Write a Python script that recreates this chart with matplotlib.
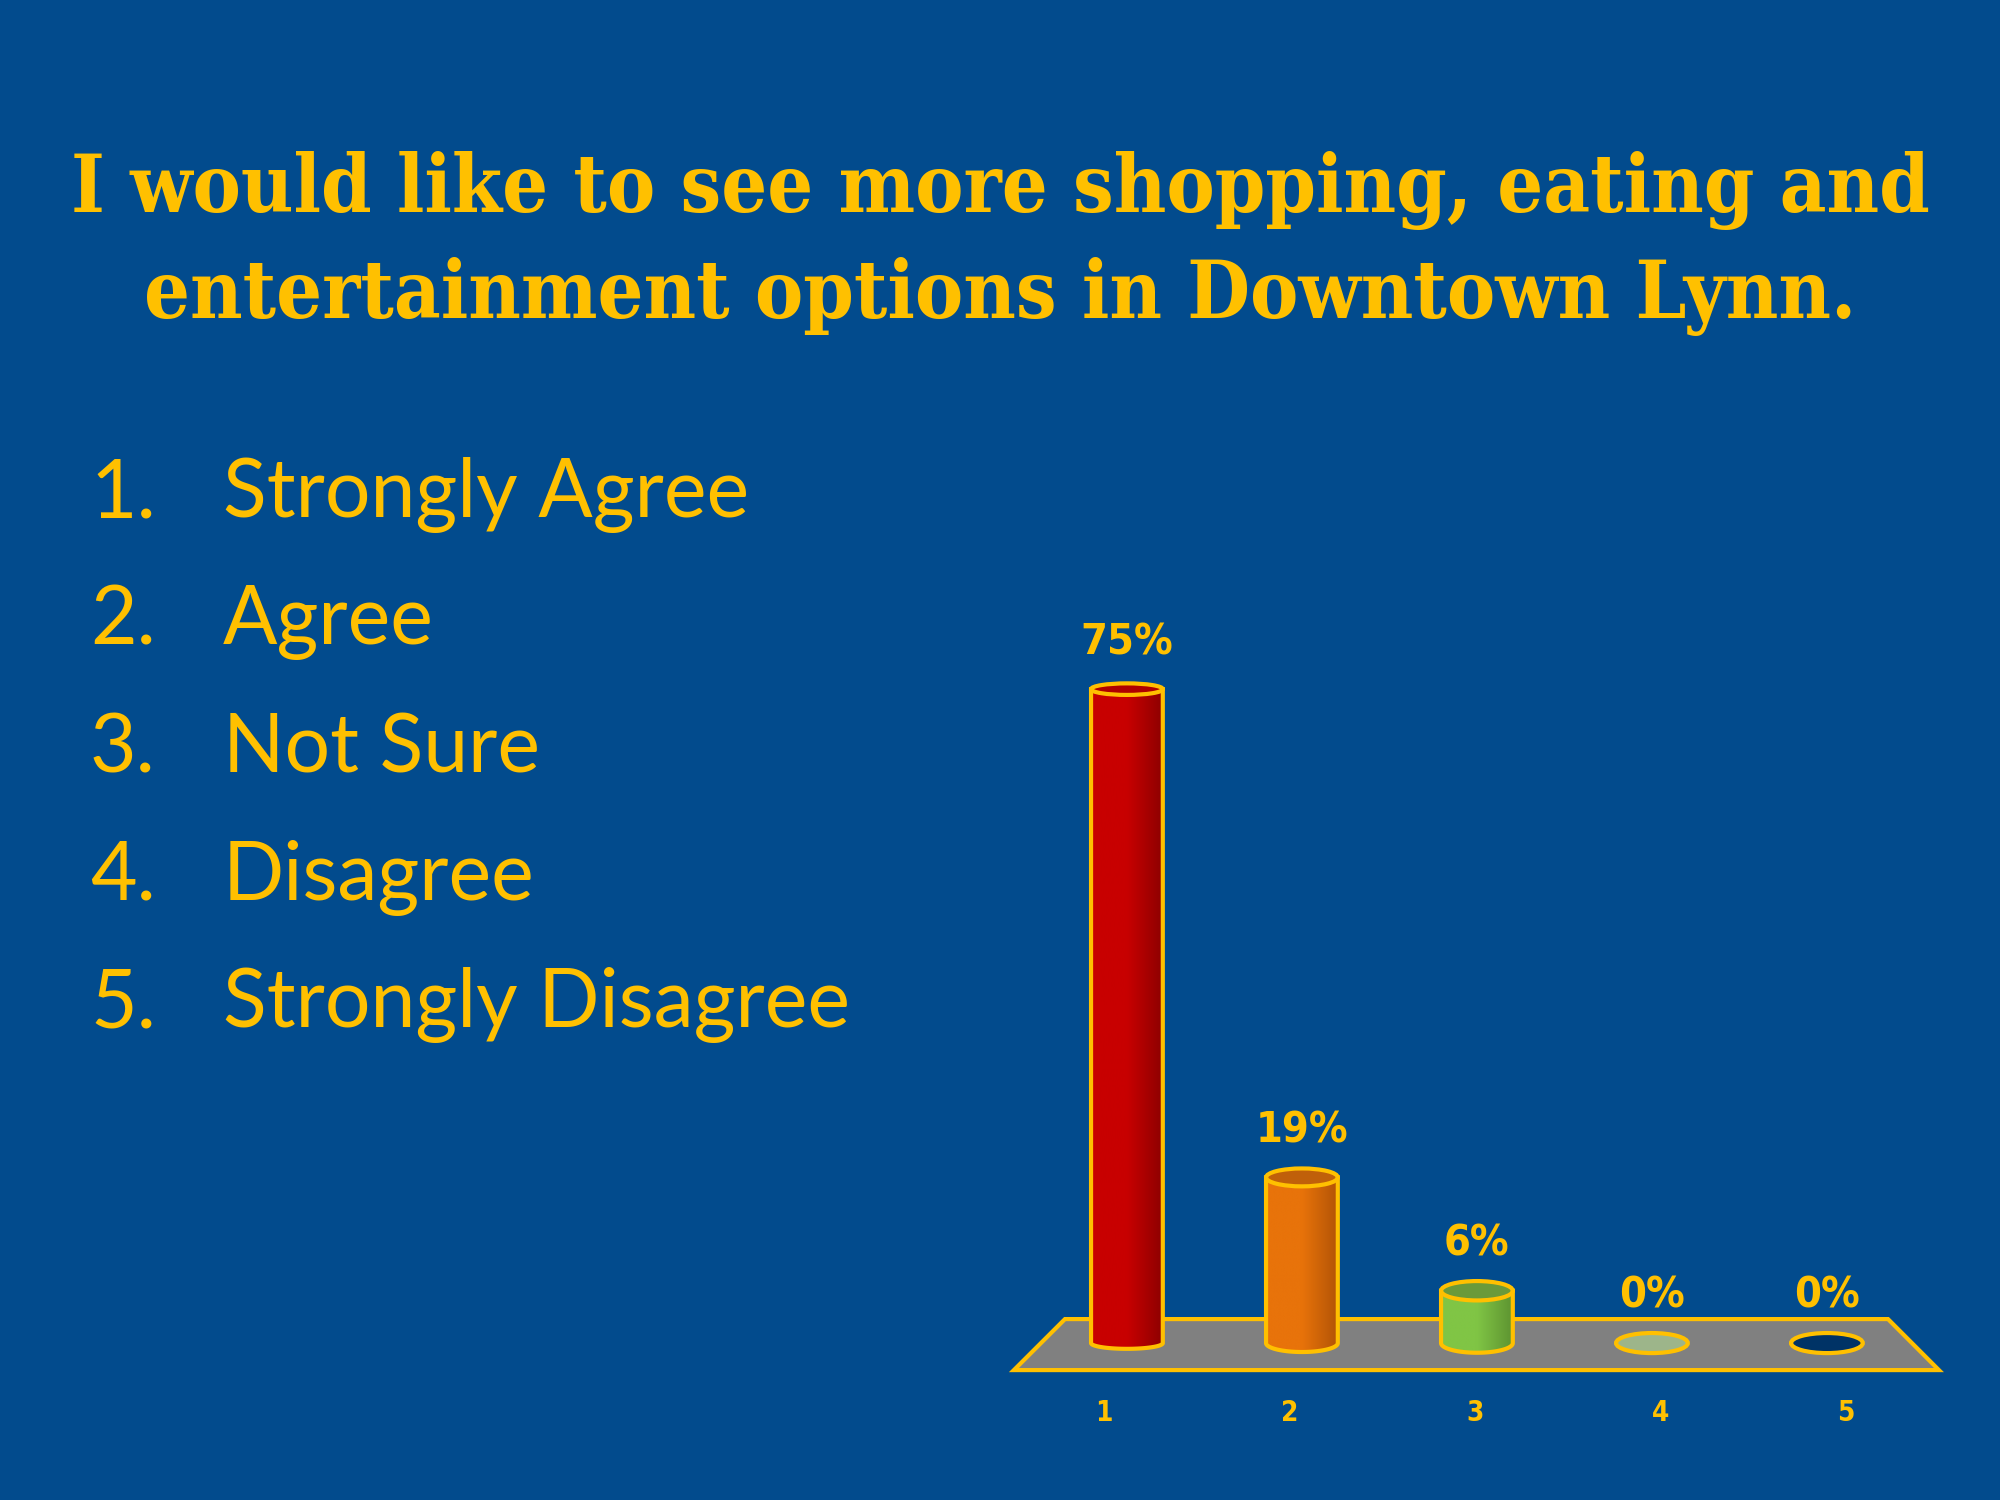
import numpy as np
import matplotlib
matplotlib.use("Agg")
import matplotlib.pyplot as plt
from matplotlib.patches import Polygon, Ellipse
from matplotlib.colors import LinearSegmentedColormap

# ── データ ──
title_lines = ["I would like to see more shopping, eating and",
               "entertainment options in Downtown Lynn."]
options = ["Strongly Agree", "Agree", "Not Sure", "Disagree", "Strongly Disagree"]
categories = ["1", "2", "3", "4", "5"]
values = [75, 19, 6, 0, 0]

BG = "#024B8D"
GOLD = "#FFC000"
# 円柱の色 (左, 右, 上面)
BAR_COLORS = [
    ("#C80000", "#8E0000", "#B00000"),
    ("#E8730A", "#B35406", "#C0600A"),
    ("#80C545", "#5E9431", "#6A9A3A"),
    ("#A8C090", "#8FA87A", "#9DB58A"),
    ("#00386E", "#002A55", "#003366"),
]

fig = plt.figure(figsize=(20, 15), dpi=100, facecolor=BG)

# ── タイトル ──
for i, line in enumerate(title_lines):
    fig.text(0.5, 0.873 - i * 0.071, line, ha="center", va="center",
             color=GOLD, fontsize=58, fontweight="bold",
             family="DejaVu Serif", fontstretch="condensed")

# ── 選択肢リスト ──
for i, opt in enumerate(options):
    y = 1 - (517 + i * 127.5) / 1500
    fig.text(0.045, y, f"{i + 1}.", ha="left", va="baseline", color=GOLD,
             fontsize=58, family="Lato")
    fig.text(0.1115, y, opt, ha="left", va="baseline", color=GOLD,
             fontsize=58, family="Lato")

# ── グラフ ──
ax = fig.add_axes([0.475, 0.0, 0.525, 0.6667])
ax.set_facecolor(BG)
ax.set_axis_off()

n = len(values)
x = np.arange(n)
W = 0.41
LBL = dict(color=GOLD, fontweight="bold", family="DejaVu Sans", fontstretch="condensed",
           ha="center", va="center")

# 床
floor = Polygon([(-0.354, 2.75), (n - 0.651, 2.75), (n - 0.36, -3.1), (-0.646, -3.1)],
                closed=True, facecolor="#808080", edgecolor=GOLD, linewidth=3, zorder=1)
ax.add_patch(floor)


def draw_cyl(xc, v, cols, z):
    half = W / 2
    eh = 2.3 - 0.013 * v
    if v > 0:
        t = np.linspace(np.pi, 2 * np.pi, 60)
        bottom = np.column_stack([xc + half * np.cos(t), eh / 2 * np.sin(t)])
        verts = np.vstack([[xc - half, v], bottom, [xc + half, v]])
        body = Polygon(verts, closed=True, facecolor="none", edgecolor="none", zorder=z)
        ax.add_patch(body)
        cmap = LinearSegmentedColormap.from_list("g", [cols[0], cols[0], cols[1]])
        im = ax.imshow(np.linspace(0, 1, 64).reshape(1, -1), cmap=cmap,
                       extent=[xc - half, xc + half, -eh / 2, v], aspect="auto",
                       interpolation="bicubic", zorder=z)
        im.set_clip_path(body)
        ax.add_patch(Polygon(verts, closed=True, facecolor="none", edgecolor=GOLD,
                             linewidth=3, zorder=z + 0.1))
    ax.add_patch(Ellipse((xc, v), W, eh, facecolor=cols[2], edgecolor=GOLD,
                         linewidth=3, zorder=z + 0.2))


for i, v in enumerate(values):
    draw_cyl(x[i], v, BAR_COLORS[i], 2 + i)
    ax.text(x[i], v + 5.4, f"{v}%", fontsize=31, **LBL)
    # 手前のラベル (遠近で少し広がる)
    ax.text(2 + (x[i] - 2) * 1.06 - 0.01, -8.0, categories[i], fontsize=20, **LBL)

ax.set_xlim(-1.011, 4.989)
ax.set_ylim(-18.0, 96.7)

fig.savefig("out.png", dpi=100, facecolor=BG)
